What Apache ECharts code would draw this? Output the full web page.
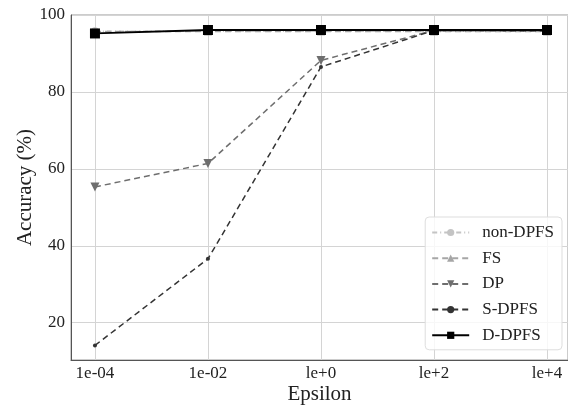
<!DOCTYPE html>
<html lang="en">
<head>
    <meta charset="UTF-8">
    <title>Accuracy vs Epsilon</title>
</head>
<body style="margin:0">
<div id="chart" style="width:568px;height:407px;"></div>
<script src="https://cdn.jsdelivr.net/npm/echarts@6/dist/echarts.min.js"></script>
<script type="text/javascript">
    const epsilonLabels = ['1e-04', '1e-02', 'le+0', 'le+2', 'le+4'];
    const nonDpfs = [95.8, 95.8, 95.8, 95.8, 95.8];
    const fs = [95.7, 95.7, 95.7, 95.7, 95.7];
    const dp = [55.3, 61.4, 88.2, 96.0, 95.9];
    const sDpfs = [14.1, 36.6, 86.5, 96.0, 95.9];
    const dDpfs = [95.2, 96.1, 96.1, 96.1, 96.1];

    const font = 'Liberation Serif';
    const chart = echarts.init(document.getElementById('chart'));

    function pts(arr) {
        return arr.map((v, i) => [i, v]);
    }

    function mkSeries(name, data, color, symbol, size, type, width) {
        return {
            name: name,
            type: 'line',
            data: pts(data),
            symbol: symbol,
            symbolSize: size,
            showAllSymbol: true,
            itemStyle: {color: color},
            lineStyle: {color: color, type: type, width: width}
        };
    }

    chart.setOption({
        animation: false,
        textStyle: {fontFamily: font},
        grid: {
            left: 71, right: 0, top: 15, bottom: 47,
            outerBoundsMode: 'none', containLabel: false,
            show: true, borderColor: '#999', borderWidth: 1
        },
        legend: {
            right: 6, top: 217,
            orient: 'vertical',
            itemWidth: 37, itemHeight: 9, itemGap: 8.7,
            backgroundColor: 'rgba(255,255,255,0.8)',
            borderColor: '#ddd', borderWidth: 1, borderRadius: 4,
            padding: [7, 8, 6, 6],
            textStyle: {fontFamily: font, fontSize: 17, color: '#222', padding: [0, 0, 0, 8]},
            data: ['non-DPFS', 'FS', 'DP', 'S-DPFS', 'D-DPFS']
        },
        xAxis: {
            type: 'value',
            min: -0.212, max: 4.186,
            name: 'Epsilon', nameLocation: 'middle', nameGap: 24, nameMoveOverlap: false,
            nameTextStyle: {fontFamily: font, fontSize: 21, color: '#222'},
            axisLine: {onZero: false, lineStyle: {color: '#555'}},
            axisTick: {show: false},
            axisLabel: {
                fontFamily: font, fontSize: 17, color: '#222', margin: 5,
                showMinLabel: false, showMaxLabel: false,
                formatter: v => {
                    const i = Math.round(v);
                    return Math.abs(v - i) < 1e-6 ? (epsilonLabels[i] || '') : '';
                }
            },
            splitLine: {show: true, lineStyle: {color: '#d4d4d4'}}
        },
        yAxis: {
            type: 'value',
            min: 10.3, max: 100,
            name: 'Accuracy (%)', nameLocation: 'middle', nameGap: 35, nameMoveOverlap: false,
            nameTextStyle: {fontFamily: font, fontSize: 21, color: '#222'},
            axisLine: {show: true, onZero: false, lineStyle: {color: '#555'}},
            axisTick: {show: false},
            axisLabel: {
                fontFamily: font, fontSize: 17, color: '#222', margin: 6,
                showMinLabel: false,
                formatter: v => (Math.abs(v % 20) < 1e-6 ? String(v) : '')
            },
            splitLine: {lineStyle: {color: '#d4d4d4'}}
        },
        series: [
            mkSeries('non-DPFS', nonDpfs, '#c4c4c4', 'circle', 8, [5, 3, 1, 3], 1.5),
            mkSeries('FS', fs, '#a6a6a6', 'triangle', 8, [6, 4], 1.5),
            mkSeries('DP', dp, '#6e6e6e', 'path://M0,0 L10,0 L5,9 Z', 9, [6, 4], 1.5),
            mkSeries('S-DPFS', sDpfs, '#333333', 'circle', 4, [6, 4], 1.5),
            mkSeries('D-DPFS', dDpfs, '#000000', 'rect', 10, 'solid', 1.8)
        ]
    });
</script>
</body>
</html>
